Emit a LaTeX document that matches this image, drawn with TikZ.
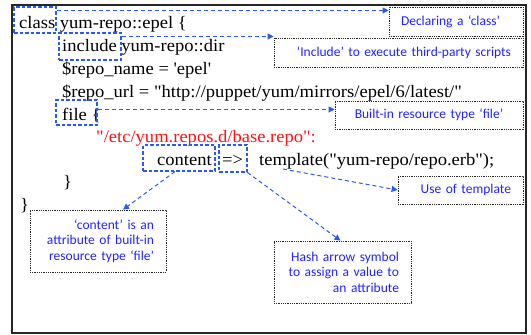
\documentclass[tikz,border=0pt]{standalone}
\usepackage{fontspec}
\usetikzlibrary{arrows.meta,calc}
\newfontfamily\codefont{Liberation Serif}[FakeStretch=1.06]
\newfontfamily\notefont{Carlito}
\definecolor{dashblue}{RGB}{40,90,240}
\definecolor{noteblue}{RGB}{35,35,250}
\definecolor{codered}{RGB}{250,20,20}
\begin{document}
\begin{tikzpicture}[x=1pt,y=-1pt,
  code/.style={anchor=base west,inner sep=0pt,font=\codefont\fontsize{17.5}{23}\selectfont},
  kwbox/.style={draw=dashblue,line width=1.1pt,dash pattern=on 3.5pt off 2pt,inner sep=0pt},
  notebox/.style={draw=black!85,line width=0.8pt,dash pattern=on 0.9pt off 0.9pt,
    inner xsep=12pt,inner ysep=0pt,text=noteblue,
    font=\notefont\fontsize{13.5}{15.5}\selectfont},
  conn/.style={draw=dashblue,line width=1pt,dash pattern=on 4pt off 3pt,
    -{Triangle[length=6pt,width=6pt]}}]
\useasboundingbox (0,0) rectangle (531,335);
\draw[line width=1.1pt,black!85] (12,5) rectangle (526,333);

% code lines
\node[code] (l1) at (19,28) {class yum-repo::epel \{};
\node[code] (l2) at (62,51) {include yum-repo::dir};
\node[code] (l3) at (62,74) {\$repo\_name = 'epel'};
\node[code] (l4) at (62,97) {\$repo\_url = "http://puppet/yum/mirrors/epel/6/latest/"};
\node[code] (l5) at (62,120) {file \{};
\node[code,text=codered] (l6) at (96,142) {"/etc/yum.repos.d/base.repo":};
\node[code] (l7a) at (157,165) {content};
\node[code] (l7b) at (222,165) {=>};
\node[code] (ttpl) at (259,165) {template("yum-repo/repo.erb");};
\node[code] (l8) at (63,187) {\}};
\node[code] (l9) at (20,210) {\}};

% keyword boxes
\node[kwbox,minimum width=42pt,minimum height=26pt] (bclass) at (35,20) {};
\node[kwbox,minimum width=62pt,minimum height=27pt] (binclude) at (90,46.5) {};
\node[kwbox,minimum width=41pt,minimum height=25pt] (bfile) at (76.5,112.5) {};
\node[kwbox,minimum width=72pt,minimum height=26pt] (bcontent) at (179,158) {};
\node[kwbox,minimum width=28pt,minimum height=27pt] (barrow) at (233,158.5) {};

% notes
\node[notebox,text width=110pt,align=left,minimum height=29pt] (tclass) at (456,21.5) {Declaring a ‘class’};
\node[notebox,text width=225pt,align=right,minimum height=29pt] (tinclude) at (398.5,52.5) {‘Include’ to execute third-party scripts};
\node[notebox,text width=164pt,align=center,minimum height=28pt] (tfile) at (429,115) {Built-in resource type ‘file’};
\node[notebox,text width=101pt,align=right,minimum height=28pt] (ttemplate) at (460.5,190) {Use of template};
\node[notebox,text width=112pt,align=right,minimum height=62pt] (tcontent) at (98,241) {‘content’ is an\\attribute of built-in\\resource type ‘file’};
\node[notebox,text width=113pt,align=right,minimum height=62pt] (thash) at (342.5,272) {Hash arrow symbol\\to assign a value to\\an attribute};

% connectors
\draw[conn] ([yshift=-4pt]bclass.north east) -- ([yshift=-4pt]bclass.north east -| tclass.west);
\draw[conn] ([yshift=-4pt]binclude.north east) -- ([yshift=-4pt]binclude.north east -| tinclude.west);
\draw[conn] ([yshift=-10pt]bfile.north east) -- ([yshift=-10pt]bfile.north east -| tfile.west);
\draw[conn] ([xshift=-4pt]bcontent.south) -- ([xshift=25pt]tcontent.north);
\draw[conn] (barrow.south east) -- ([xshift=-2pt]thash.north);
\draw[conn] ([xshift=24pt,yshift=-4pt]ttpl.base west) -- (ttemplate.west);
\end{tikzpicture}
\end{document}
